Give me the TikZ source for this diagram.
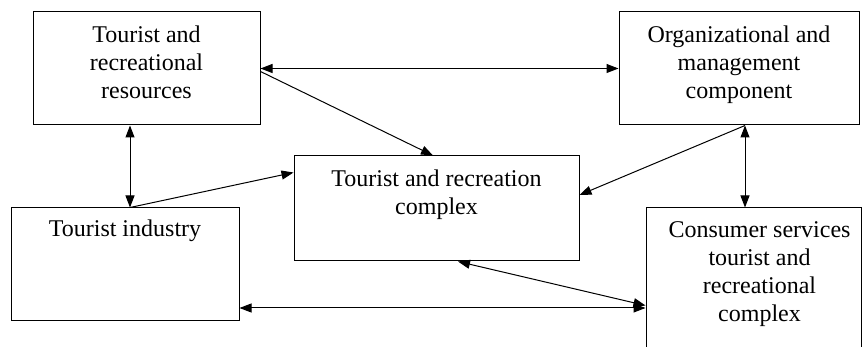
\documentclass[tikz,border=0pt]{standalone}
\usepackage{fontspec}
\setmainfont{Liberation Serif}
\usetikzlibrary{arrows.meta,positioning,calc}

\begin{document}
\begin{tikzpicture}[x=1pt,y=-1pt,
  box/.style={draw, line width=1pt, inner sep=0pt},
  txt/.style={anchor=north, align=center, inner sep=0pt, font=\fontsize{24}{28}\selectfont},
  link/.style={line width=1pt, -{Triangle[length=12pt,width=9pt]}},
  both/.style={line width=1pt, {Triangle[length=12pt,width=9pt]}-{Triangle[length=12pt,width=9pt]}}]
\useasboundingbox (0,0) rectangle (862,347);
\clip (0,0) rectangle (862,347);
% boxes
\node[box, minimum width=227pt, minimum height=113pt] (res) at (146.5,68.5) {};
\node[box, minimum width=240pt, minimum height=113pt] (org) at (739,68.5) {};
\node[box, minimum width=285pt, minimum height=105pt] (cpx) at (436.5,208.5) {};
\node[box, minimum width=228pt, minimum height=113pt] (ind) at (125,264.5) {};
\node[box, minimum width=215pt, minimum height=160pt] (con) at (753.5,288) {};
% texts
\node[txt] (restxt) at ([yshift=-14pt]res.north) {Tourist and\\recreational\\resources};
\node[txt] (orgtxt) at ([yshift=-14pt]org.north) {Organizational and\\management\\component};
\node[txt] (cpxtxt) at ([yshift=-14pt]cpx.north) {Tourist and recreation\\complex};
\node[txt] (indtxt) at ([yshift=-12pt]ind.north) {Tourist industry};
\node[txt] (contxt) at ([xshift=6pt,yshift=-14pt]con.north) {Consumer services\\tourist and\\recreational\\complex};
% connectors
\draw[both] (res.east) -- (org.west);
\draw[both] ([xshift=5pt]ind.north |- res.south) -- ([xshift=5pt]ind.north);
\draw[both] ([xshift=6pt]org.south) -- ([xshift=6pt]org.south |- con.north);
\draw[link] ([yshift=-3pt]res.east) -- ([xshift=-3.5pt]cpx.north);
\draw[link] ([xshift=5pt]ind.north) -- ([yshift=-17pt]cpx.north west);
\draw[link] ([xshift=6pt]org.south) -- ([yshift=13.5pt]cpx.east);
\draw[both] ([xshift=21.5pt]cpx.south) -- ([yshift=-41pt]ind.east -| con.west);
\draw[both] ([yshift=-43.5pt]ind.east) -- ([yshift=-43.5pt]ind.east -| con.west);
\end{tikzpicture}
\end{document}
